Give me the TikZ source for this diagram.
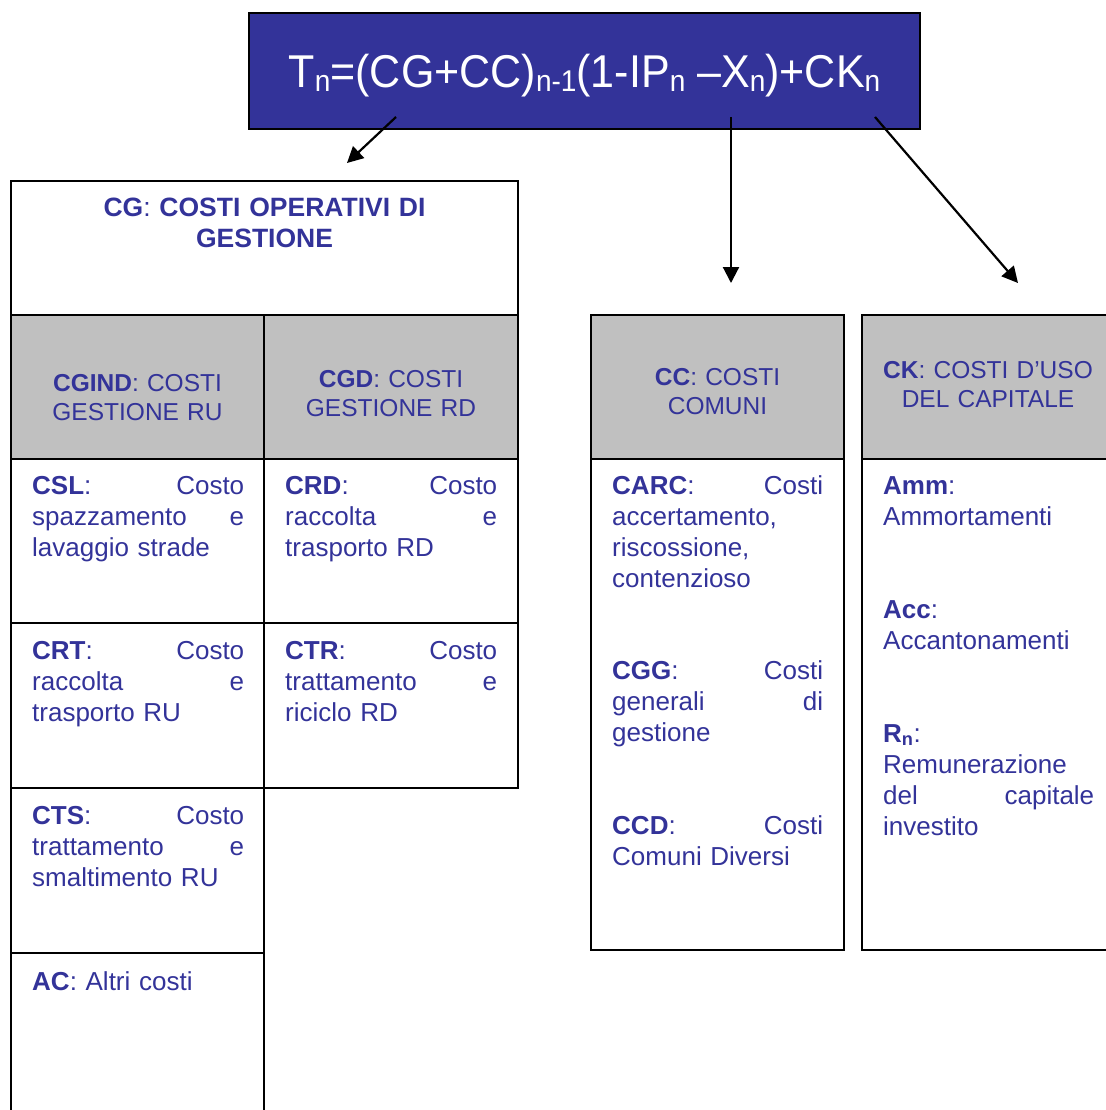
\documentclass[tikz,border=0pt]{standalone}
\usepackage{fontspec}
\setmainfont{Liberation Sans}
\usepackage{tikz}
\usetikzlibrary{arrows.meta, positioning}
\definecolor{ink}{RGB}{51,51,153}
\definecolor{hdgray}{RGB}{192,192,192}
% small lowered index in the formula
\newcommand{\lowidx}[1]{\raisebox{-4pt}{\fontsize{30}{30}\selectfont #1}}
\tikzset{
 cell/.style={draw=black, line width=2pt},
 cellg/.style={cell, fill=hdgray},
 formula/.style={draw=black, line width=2pt, fill=ink, text=white, inner sep=0pt,
  minimum width=671pt, minimum height=116pt, text height=40pt, text depth=6pt,
  font=\fontsize{46}{50}\selectfont},
 head/.style={anchor=base, align=center, inner sep=0pt, text=ink,
  font=\fontsize{24.5}{29}\selectfont},
 body/.style={anchor=base west, align=left, inner sep=0pt, text=ink, text width=212pt,
  font=\fontsize{26}{31}\selectfont},
 link/.style={line width=2.2pt, -{Triangle[length=16pt, width=16pt]}}
}

\begin{document}
\begin{tikzpicture}[x=1pt, y=-1pt]
 \useasboundingbox (0,0) rectangle (1105,1110);
 % formula
 \node[formula] (tn) at (584.5,71)
  {\scalebox{0.935}[1]{T\lowidx{n}=(CG+CC)\lowidx{n-1}(1-IP\lowidx{n} –X\lowidx{n})+CK\lowidx{n}}};
 \coordinate (fromcg) at (396,117);
 \coordinate (fromcc) at (731,117);
 \coordinate (fromck) at (875,117);
 \coordinate (tocg) at (347,163);
 \coordinate (tocc) at (731,283);
 \coordinate (tock) at (1018,283);
 \draw[link] (fromcg) -- (tocg);
 \draw[link] (fromcc) -- (tocc);
 \draw[link] (fromck) -- (tock);
%
 % CG table
 \draw[cell] (11,181) rectangle (518,315);
 \filldraw[cellg] (11,315) rectangle (264,459);
 \filldraw[cellg] (264,315) rectangle (518,459);
 \draw[cell] (11,459) rectangle (264,623);
 \draw[cell] (264,459) rectangle (518,623);
 \draw[cell] (11,623) rectangle (264,788);
 \draw[cell] (264,623) rectangle (518,788);
 \draw[cell] (11,788) rectangle (264,953);
 \draw[cell] (11,953) rectangle (264,1125);
 \node[head, text width=507pt, font=\fontsize{26.5}{31}\selectfont] (cg) at (264.5,216)
  {\textbf{CG}: \textbf{COSTI OPERATIVI DI}\\\textbf{GESTIONE}};
 \node[head, text width=253pt] (cgind) at (137.5,391) {\textbf{CGIND}: COSTI\\GESTIONE RU};
 \node[head, text width=254pt] (cgd) at (391,387) {\textbf{CGD}: COSTI\\GESTIONE RD};
 \node[body] (csl) at (32,494) {\textbf{CSL}:\hfill Costo\\spazzamento\hfill e\\lavaggio strade};
 \node[body] (crd) at (285,494) {\textbf{CRD}:\hfill Costo\\raccolta\hfill e\\trasporto RD};
 \node[body] (crt) at (32,659) {\textbf{CRT}:\hfill Costo\\raccolta\hfill e\\trasporto RU};
 \node[body] (ctr) at (285,659) {\textbf{CTR}:\hfill Costo\\trattamento\hfill e\\riciclo RD};
 \node[body] (cts) at (32,824) {\textbf{CTS}:\hfill Costo\\trattamento\hfill e\\smaltimento RU};
 \node[body] (ac) at (32,990) {\textbf{AC}: Altri costi};
%
 % CC table
 \filldraw[cellg] (591,315) rectangle (844,459);
 \draw[cell] (591,459) rectangle (844,950);
 \node[head, text width=253pt] (cc) at (717.5,385) {\textbf{CC}: COSTI\\COMUNI};
 \node[body, text width=211pt] (carc) at (612,494)
  {\textbf{CARC}:\hfill Costi\\accertamento,\\riscossione,\\contenzioso};
 \node[body, text width=211pt] (cgg) at (612,679) {\textbf{CGG}:\hfill Costi\\generali\hfill di\\gestione};
 \node[body, text width=211pt] (ccd) at (612,834) {\textbf{CCD}:\hfill Costi\\Comuni Diversi};
%
 % CK table
 \filldraw[cellg] (862,315) rectangle (1114,459);
 \draw[cell] (862,459) rectangle (1114,950);
 \node[head, text width=252pt] (ck) at (988,378) {\textbf{CK}: COSTI D’USO\\DEL CAPITALE};
 \node[body, text width=211pt] (amm) at (883,494) {\textbf{Amm}:\\Ammortamenti};
 \node[body, text width=211pt] (acc) at (883,618) {\textbf{Acc}:\\Accantonamenti};
 \node[body, text width=211pt] (rn) at (883,742)
  {\textbf{R\textsubscript{n}}:\\Remunerazione\\del\hfill capitale\\investito};
\end{tikzpicture}
\end{document}
